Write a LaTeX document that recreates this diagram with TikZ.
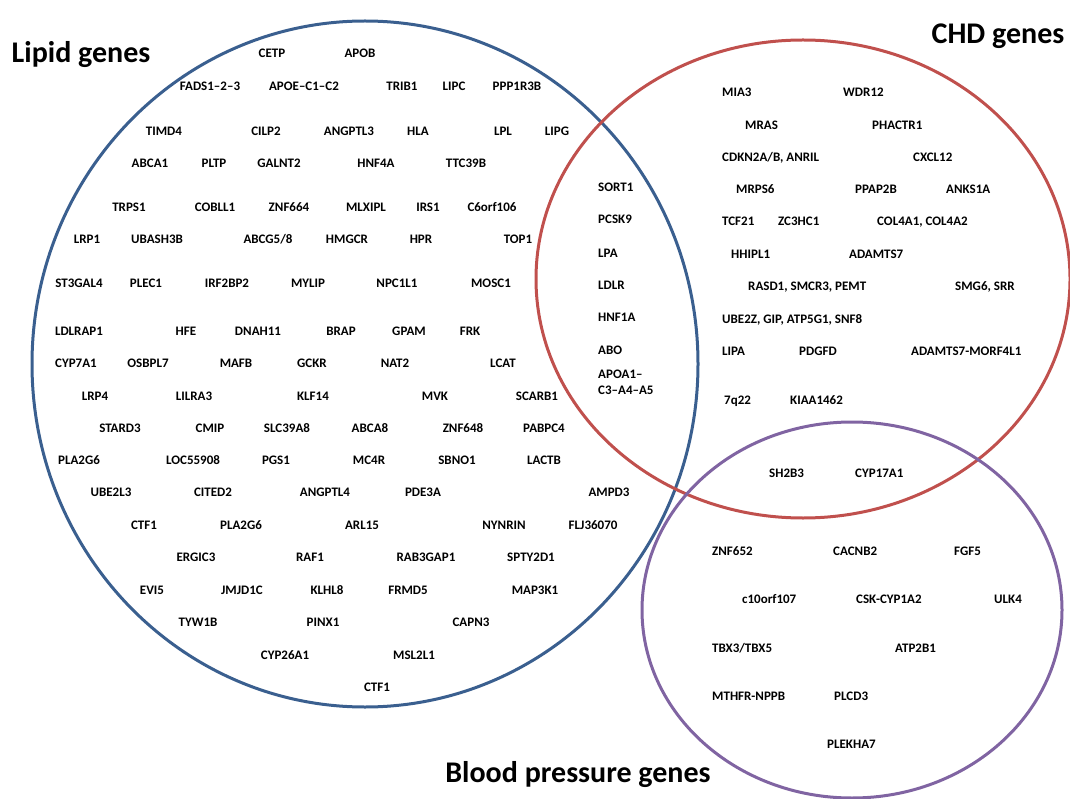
\documentclass[tikz,border=0pt]{standalone}
\usepackage{fontspec}
\setmainfont{Carlito}
\definecolor{lipidblue}{HTML}{3A5F8F}
\definecolor{chdred}{HTML}{C0504D}
\definecolor{bppurple}{HTML}{8064A2}

\begin{document}
\begin{tikzpicture}[x=1pt, y=-1pt,
  setline/.style={line width=3pt},
  gene/.style={font=\fontsize{13}{16}\selectfont\bfseries, inner sep=0pt,
    text height=8.4pt, text depth=0pt},
  genew/.style={gene, anchor=west},
  settitle/.style={font=\fontsize{30}{36}\selectfont\bfseries, inner sep=0pt}]
\useasboundingbox (0,0) rectangle (1070,799);

% the three sets
\draw[setline, lipidblue] (365,364) ellipse [x radius=333, y radius=343];
\draw[setline, chdred] (803,279) ellipse [x radius=267, y radius=239];
\draw[setline, bppurple] (852,610) ellipse [x radius=210, y radius=188];

\node[settitle] (liptitle) at (81,55) {Lipid genes};
\node[settitle] (chdtitle) at (998,36) {CHD genes};
\node[settitle] (bptitle) at (578,775) {Blood pressure genes};

% lipid only
\foreach \gname/\x/\y [count=\i] in {CETP/272/53, APOB/360/53,
  FADS1–2–3/210/86, APOE–C1–C2/304/86, TRIB1/402/86, LIPC/454/86, PPP1R3B/517/86,
  TIMD4/164/131, CILP2/266/131, ANGPTL3/349/131, HLA/418/131, LPL/503/131, LIPG/557/131,
  ABCA1/150/163, PLTP/214/163, GALNT2/279/163, HNF4A/376/163, TTC39B/466/163,
  TRPS1/129/207, COBLL1/215/207, ZNF664/289/207, MLXIPL/366/207, IRS1/428/207, C6orf106/492/207,
  LRP1/87/239, UBASH3B/157/239, {ABCG5/8}/268/239, HMGCR/347/239, HPR/421/239, TOP1/518/239,
  ST3GAL4/79/283, PLEC1/146/283, IRF2BP2/227/283, MYLIP/308/283, NPC1L1/397/283, MOSC1/491/283,
  LDLRAP1/79/331, HFE/186/331, DNAH11/258/331, BRAP/341/331, GPAM/409/331, FRK/470/331,
  CYP7A1/76/363, OSBPL7/148/363, MAFB/236/363, GCKR/312/363, NAT2/395/363, LCAT/503/363,
  LRP4/95/396, LILRA3/194/396, KLF14/313/396, MVK/435/396, SCARB1/537/396,
  STARD3/120/428, CMIP/210/428, SLC39A8/287/428, ABCA8/370/428, ZNF648/463/428, PABPC4/544/428,
  PLA2G6/79/460, LOC55908/193/460, PGS1/276/460, MC4R/369/460, SBNO1/457/460, LACTB/544/460,
  UBE2L3/111/492, CITED2/213/492, ANGPTL4/325/492, PDE3A/423/492, AMPD3/609/492,
  CTF1/144/525, PLA2G6/241/525, ARL15/362/525, NYNRIN/504/525, FLJ36070/593/525,
  ERGIC3/196/557, RAF1/310/557, RAB3GAP1/426/557, SPTY2D1/531/557,
  EVI5/152/590, JMJD1C/242/590, KLHL8/327/590, FRMD5/408/590, MAP3K1/535/590,
  TYW1B/198/622, PINX1/323/622, CAPN3/471/622,
  CYP26A1/285/655, MSL2L1/414/655,
  CTF1/377/687}
  \node[gene] (lip\i) at (\x,\y) {\gname};

% lipid and CHD
\foreach \gname/\y [count=\i] in {SORT1/187, PCSK9/219, LPA/253, LDLR/285, HNF1A/317, ABO/350}
  \node[genew] (lipchd\i) at (598,\y) {\gname};
\node[genew, align=left] (apoa) at (598,390) {APOA1–\\C3–A4–A5};

% CHD only
\foreach \gname/\x/\y [count=\i] in {MIA3/722/92, WDR12/843/92, MRAS/745/125, PHACTR1/872/125,
  {CDKN2A/B, ANRIL}/722/157, CXCL12/913/157, MRPS6/736/189, PPAP2B/855/189, ANKS1A/946/189,
  TCF21/722/221, ZC3HC1/778/221, {COL4A1, COL4A2}/877/221, HHIPL1/731/254, ADAMTS7/849/254,
  {RASD1, SMCR3, PEMT}/748/286, {SMG6, SRR}/955/286, {UBE2Z, GIP, ATP5G1, SNF8}/722/319,
  LIPA/722/351, PDGFD/799/351, ADAMTS7-MORF4L1/911/351, 7q22/724/400, KIAA1462/790/400}
  \node[genew] (chd\i) at (\x,\y) {\gname};

% CHD and blood pressure
\node[genew] (sh2b3) at (769,473) {SH2B3};
\node[genew] (cyp17a1) at (855,473) {CYP17A1};

% blood pressure only
\foreach \gname/\x/\y [count=\i] in {ZNF652/712/551, CACNB2/833/551, FGF5/954/551,
  c10orf107/742/599, CSK-CYP1A2/856/599, ULK4/994/599, {TBX3/TBX5}/712/648, ATP2B1/895/648,
  MTHFR-NPPB/712/696, PLCD3/834/696, PLEKHA7/827/744}
  \node[genew] (bp\i) at (\x,\y) {\gname};
\end{tikzpicture}
\end{document}
